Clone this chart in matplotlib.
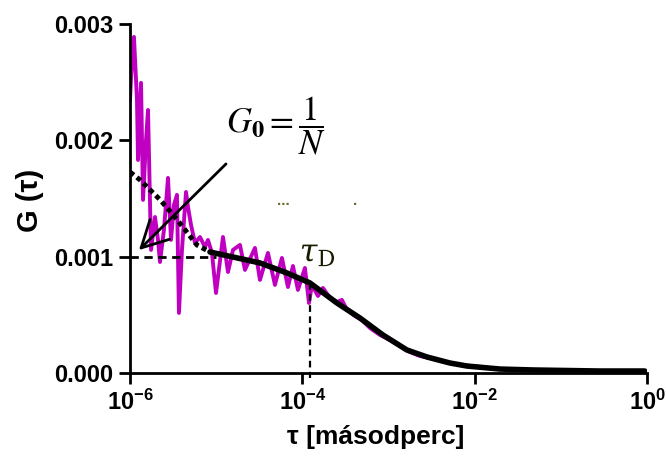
import numpy as np
import matplotlib
matplotlib.use("Agg")
import matplotlib.pyplot as plt
import matplotlib.patheffects as pe
from matplotlib import font_manager

plt.rcParams["font.family"] = ["Liberation Sans", "DejaVu Sans"]
plt.rcParams["mathtext.fontset"] = "custom"

names = {f.name for f in font_manager.fontManager.ttflist}
narrow = "Liberation Sans Narrow" in names
tick_font = "Liberation Sans Narrow" if narrow else "Liberation Sans"
tick_size = 20 if narrow else 17
plt.rcParams["mathtext.rm"] = tick_font + ":bold"
plt.rcParams["mathtext.it"] = tick_font + ":bold"
plt.rcParams["mathtext.bf"] = tick_font + ":bold"

# measured autocorrelation (log10 tau, G in units of 1e-3)
data_logtau = [-6.000, -5.988, -5.954, -5.919, -5.907, -5.872, -5.849, -5.814, -5.791,
               -5.756, -5.710, -5.675, -5.652, -5.606, -5.559, -5.524, -5.490, -5.455,
               -5.432, -5.397, -5.350, -5.327, -5.292, -5.246, -5.188, -5.130, -5.095,
               -5.049, -5.002, -4.921, -4.863, -4.805, -4.724, -4.666, -4.550, -4.492,
               -4.399, -4.318, -4.237, -4.167, -4.109, -4.051, -3.970, -3.923, -3.889,
               -3.819, -3.761, -3.680, -3.599, -3.541, -3.483, -3.390, -3.309, -3.216,
               -3.100, -2.984, -2.868, -2.752, -2.636, -2.520, -2.346, -2.172, -1.940,
               -1.708, -1.360, -1.012, -0.664, -0.408]
data_G = [2.347, 2.537, 2.889, 2.347, 1.831, 2.494, 1.488, 2.003, 2.261,
          1.058, 1.341, 1.144, 0.954, 1.230, 1.677, 1.144, 1.445, 1.531,
          0.516, 1.058, 1.556, 1.427, 1.273, 1.118, 1.169, 1.083, 1.144,
          1.032, 0.688, 1.169, 0.868, 1.058, 1.101, 0.886, 1.075, 0.800,
          1.032, 0.757, 0.989, 0.739, 0.920, 0.714, 0.903, 0.602, 0.757,
          0.662, 0.731, 0.645, 0.610, 0.628, 0.542, 0.490, 0.456, 0.387,
          0.327, 0.284, 0.232, 0.181, 0.146, 0.129, 0.095, 0.069, 0.052,
          0.034, 0.026, 0.026, 0.017, 0.017]

# fitted curve (log10 tau, G in units of 1e-3)
fit_logtau = [-6.000, -5.884, -5.652, -5.455, -5.223, -5.072, -4.805, -4.492, -4.179,
              -3.912, -3.599, -3.332, -3.065, -2.787, -2.555, -2.288, -2.091, -1.708,
              -1.325, -0.548, -0.026]
fit_G = [1.728, 1.660, 1.490, 1.320, 1.100, 1.040, 0.997, 0.946, 0.860,
         0.774, 0.602, 0.473, 0.327, 0.198, 0.138, 0.086, 0.060, 0.034,
         0.026, 0.017, 0.017]

G0 = 1.0e-3
tau_D = 1.23e-4
G_at_tauD = 0.774e-3
plateau_end = 1.0e-5

x_ticks = [1e-6, 1e-4, 1e-2, 1e0]
x_labels = [r"$10^{-6}$", r"$10^{-4}$", r"$10^{-2}$", r"$10^{0}$"]
y_ticks = [0.000, 0.001, 0.002, 0.003]

fig = plt.figure(figsize=(6.66, 4.58), dpi=100)
ax = fig.add_axes([0.1952, 0.1856, 0.7763, 0.762])

ax.plot(10 ** np.array(data_logtau), np.array(data_G) * 1e-3,
        color="#c000c0", lw=2.8, zorder=2)

ft = 10 ** np.array(fit_logtau)
fg = np.array(fit_G) * 1e-3
ax.plot(ft[:6], fg[:6], color="black", lw=3.5, ls=(0, (1, 0.8)), zorder=3)
ax.plot(ft[5:], fg[5:], color="black", lw=4, zorder=3, solid_capstyle="round")

ax.plot([1e-6, plateau_end], [G0, G0], color="black", lw=2, ls=(0, (3, 2)), zorder=4)
ax.plot([tau_D, tau_D], [G_at_tauD, -0.00004], color="black", lw=1.6,
        ls=(0, (3, 2)), zorder=4, clip_on=False)

ax.annotate("", xy=(10 ** -5.919, 1.04e-3), xytext=(10 ** -4.863, 1.814e-3),
            arrowprops=dict(arrowstyle="->,head_length=1.9,head_width=1.0",
                            color="black", lw=2), zorder=5)

ax.text(10 ** -4.306, 2.13e-3, r"$G_{\mathbf{0}}=\dfrac{1}{N}$", fontsize=25,
        math_fontfamily="stix", ha="center", va="center")

ax.text(10 ** -4.03, 0.90e-3, r"$\tau_{\mathrm{D}}$", fontsize=23,
        math_fontfamily="dejavuserif", color="#1a1a00", ha="left", va="bottom",
        path_effects=[pe.SimpleLineShadow(offset=(-1.2, 1.2), shadow_color="#b8b040", alpha=1),
                      pe.Normal()])

ax.text(10 ** -4.22, 1.42e-3, "...", fontsize=11, fontweight="bold", color="#6b6b2a",
        ha="center", va="bottom")
ax.text(10 ** -3.39, 1.42e-3, ".", fontsize=11, fontweight="bold", color="#6b6b2a",
        ha="center", va="bottom")

ax.set_xscale("log")
ax.set_xlim(1e-6, 1e0)
ax.set_ylim(0, 0.003)
ax.set_xticks(x_ticks)
ax.set_xticklabels(x_labels)
ax.minorticks_off()
ax.set_yticks(y_ticks)
ax.set_yticklabels([f"{v:.3f}" for v in y_ticks])

for s in ["top", "right"]:
    ax.spines[s].set_visible(False)
for s in ["left", "bottom"]:
    ax.spines[s].set_linewidth(2)

ax.tick_params(direction="out", length=8, width=2, labelsize=tick_size, pad=4)
for lab in ax.get_yticklabels():
    lab.set_fontweight("bold")
    lab.set_fontfamily(tick_font)

ax.set_xlabel("τ [másodperc]", fontsize=tick_size + 2, fontweight="bold",
              fontfamily=tick_font, va="center")
ax.xaxis.set_label_coords(0.476, -0.183)
ax.set_ylabel("G (τ)", fontsize=21, fontweight="bold",
              fontfamily="Liberation Sans", va="center")
ax.yaxis.set_label_coords(-0.193, 0.496)

fig.savefig("out.png", dpi=100)
